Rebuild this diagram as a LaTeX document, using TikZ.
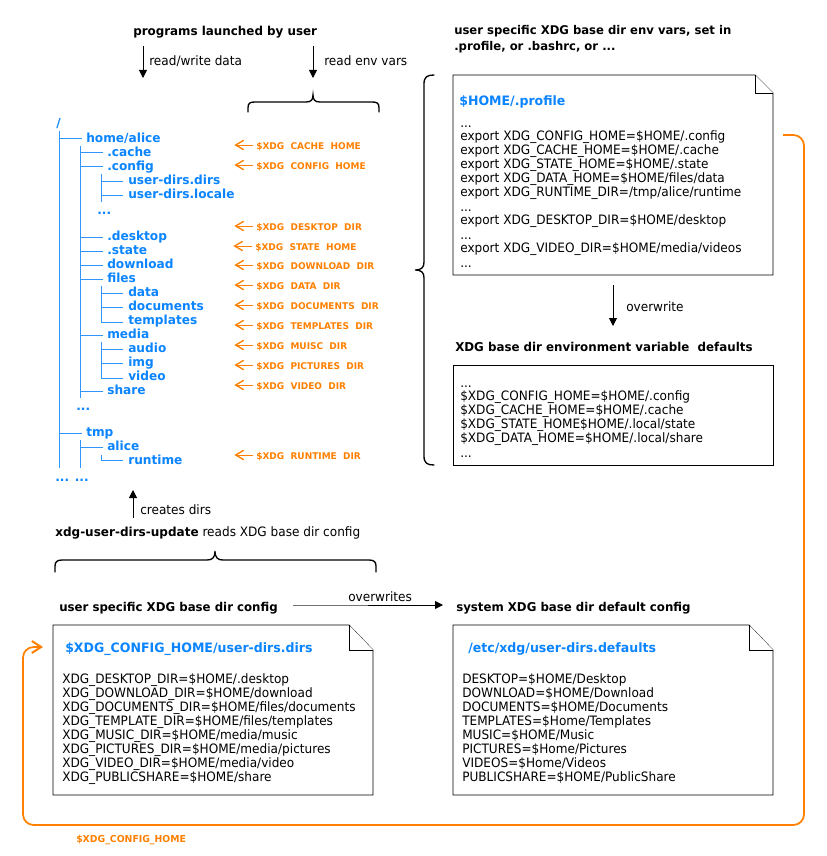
\documentclass[tikz,border=0pt]{standalone}
\usepackage{fontspec}
\setmainfont{DejaVu Sans}
\newfontfamily\bodyf[FakeStretch=0.935]{DejaVu Sans}
\newfontfamily\boldf[FakeStretch=0.97]{DejaVu Sans Bold}
\newfontfamily\treef[FakeStretch=0.97]{DejaVu Sans Bold}
\usetikzlibrary{arrows.meta}
\definecolor{treeblue}{HTML}{0A84FF}
\definecolor{xorange}{HTML}{FF8000}
\tikzset{
  x=0.75pt,y=-0.75pt,
  txt/.style={inner sep=0pt,anchor=base west,yshift=-0.75pt,font=\bodyf\fontsize{9.7}{10}\selectfont,text=black},
  hd/.style={inner sep=0pt,anchor=base west,yshift=-0.75pt,font=\boldf\fontsize{9}{10}\selectfont,text=black},
  tree/.style={inner sep=0pt,anchor=base west,yshift=-0.35pt,font=\treef\fontsize{9.4}{10}\selectfont,text=treeblue},
  title/.style={inner sep=0pt,anchor=base west,font=\treef\fontsize{9.7}{10}\selectfont,text=treeblue},
  lab/.style={inner sep=0pt,anchor=base west,yshift=-0.35pt,font=\treef\fontsize{6.95}{8}\selectfont,text=xorange},
  tline/.style={draw=treeblue!85,line width=0.6pt},
  oarr/.style={draw=xorange,line width=0.75pt,-{Straight Barb[length=6pt,width=7pt,line width=1pt]}},
  barr/.style={draw=black,line width=0.6pt,-{Triangle[length=6pt,width=6pt]}},
  doc/.style={draw=black,line width=0.6pt,fill=white},
  brc/.style={draw=black,line width=1pt,line cap=round},
}
\begin{document}
\begin{tikzpicture}
\useasboundingbox (0,0) rectangle (827,856);
% headings
\node[hd] (prog) at (133,35) {\fontsize{9.2}{10}\selectfont programs launched by user};
\node[txt] (rw) at (149,64) {read/write data};
\node[txt] (renv) at (324,64) {read env vars};
\coordinate (a1s) at (143,46); \coordinate (a1e) at (143,78);
\coordinate (a2s) at (313,46); \coordinate (a2e) at (313,78);
\draw[barr] (a1s) -- (a1e);
\draw[barr] (a2s) -- (a2e);
% top brace
\draw[brc] (248,112) -- (248,108) .. controls (248,103) and (250,102) .. (255,102) -- (306,102) .. controls (311,102) and (313,100) .. (313,95)
  .. controls (313,100) and (315,102) .. (320,102) -- (372,102) .. controls (377,102) and (379,103) .. (379,108) -- (379,112);
% tree
\node[tree] (root) at (56,127) {/};
\node[tree] (home) at (86,142) {home/alice};
\node[tree] (cache) at (107,156) {.cache};
\node[tree] (config) at (107,170) {.config};
\node[tree] (ud) at (128,184) {user-dirs.dirs};
\node[tree] (ul) at (128,198) {user-dirs.locale};
\node[tree] (d1) at (97,214) {...};
\node[tree] (desktop) at (107,240) {.desktop};
\node[tree] (state) at (107,254) {.state};
\node[tree] (download) at (107,268) {download};
\node[tree] (files) at (107,282) {files};
\node[tree] (data) at (128,296) {data};
\node[tree] (documents) at (128,310) {documents};
\node[tree] (templates) at (128,324) {templates};
\node[tree] (media) at (107,338) {media};
\node[tree] (audio) at (128,352) {audio};
\node[tree] (img) at (128,366) {img};
\node[tree] (video) at (128,380) {video};
\node[tree] (share) at (107,394) {share};
\node[tree] (d2) at (76,410) {...};
\node[tree] (tmp) at (86,436) {tmp};
\node[tree] (alice) at (107,450) {alice};
\node[tree] (runtime) at (128,464) {runtime};
\node[tree] (d3) at (55,481) {... ...};
% tree lines
\coordinate (s1t) at (59,131); \coordinate (s1b) at (59,468);
\coordinate (s2t) at (80,146); \coordinate (s2b) at (80,398);
\coordinate (s3t) at (80,440); \coordinate (s3b) at (80,468);
\draw[tline] (s1t) -- (s1b);
\draw[tline] (s2t) -- (s2b);
\draw[tline] (s3t) -- (s3b);
\draw[tline] (101,174) -- (101,202);
\draw[tline] (101,286) -- (101,322) -- (123,322);
\draw[tline] (101,342) -- (101,378) -- (123,378);
\draw[tline] (101,455) -- (101,460.5) -- (123,460.5);
\foreach \n/\y in {home/138,tmp/433}{\draw[tline] (59,\y) -- (82,\y);}
\foreach \n/\y in {cache/152,config/166,desktop/237,state/251,download/265,files/279,media/335,share/391,alice/447}{\draw[tline] (80,\y) -- (103,\y);}
\foreach \n/\y in {ud/181,ul/195,data/293,documents/307,img/363,audio/349}{\draw[tline] (101,\y) -- (123,\y);}
% orange labels
\foreach \n/\x/\y/\t in {
 l1/256/149/\$XDG\ \ CACHE\ \ HOME,
 l2/256/169/\$XDG\ \ CONFIG\ \ HOME,
 l3/256/230/\$XDG\ \ DESKTOP\ \ DIR,
 l4/255/250/\$XDG\ \ STATE\ \ HOME,
 l5/256/269/\$XDG\ \ DOWNLOAD\ \ DIR,
 l6/256/289/\$XDG\ \ DATA\ \ DIR,
 l7/256/309/\$XDG\ \ DOCUMENTS\ \ DIR,
 l8/256/329/\$XDG\ \ TEMPLATES\ \ DIR,
 l9/256/349/\$XDG\ \ MUISC\ \ DIR,
 l10/256/369/\$XDG\ \ PICTURES\ \ DIR,
 l11/256/389/\$XDG\ \ VIDEO\ \ DIR,
 l12/256/459/\$XDG\ \ RUNTIME\ \ DIR}{
 \node[lab] (\n) at (\x,\y) {\t};
 \draw[oarr] ([xshift=-2pt,yshift=3.35pt]\n.base west) -- ++(-19,0);
}
% profile
\node[hd] (h1) at (454,34) {user specific XDG base dir env vars, set in};
\node[hd] (h2) at (454,50) {.profile, or .bashrc, or ...};
\draw[doc] (453,75) -- (755,75) -- (773,93) -- (773,275) -- (453,275) -- cycle;
\draw[doc] (755,75) -- (755,93) -- (773,93);
\node[title] (ptitle) at (459,105) {\$HOME/.profile};
\node[txt] (p0) at (460,126) {...};
\node[txt] (p1) at (460,139) {export XDG\_CONFIG\_HOME=\$HOME/.config};
\node[txt] (p2) at (460,153) {export XDG\_CACHE\_HOME=\$HOME/.cache};
\node[txt] (p3) at (460,167) {export XDG\_STATE\_HOME=\$HOME/.state};
\node[txt] (p4) at (460,181) {export XDG\_DATA\_HOME=\$HOME/files/data};
\node[txt] (p5) at (460,195) {export XDG\_RUNTIME\_DIR=/tmp/alice/runtime};
\node[txt] (p6) at (460,210) {...};
\node[txt] (p7) at (460,223) {export XDG\_DESKTOP\_DIR=\$HOME/desktop};
\node[txt] (p8) at (460,238) {...};
\node[txt] (p9) at (460,251) {export XDG\_VIDEO\_DIR=\$HOME/media/videos};
\node[txt] (p10) at (460,266) {...};
% right brace
\draw[brc] (434,75) .. controls (427,75) and (424,77) .. (424,84) -- (424,262) .. controls (424,267) and (422,270) .. (415,270)
 .. controls (422,270) and (424,273) .. (424,278) -- (424,456) .. controls (424,463) and (427,465) .. (434,465);
% overwrite
\coordinate (owa) at (613,285); \coordinate (owb) at (613,326);
\draw[barr] (owa) -- (owb);
\node[txt] (ow) at (626,310) {overwrite};
\node[hd] (h3) at (455,350) {\fontsize{9.15}{10}\selectfont XDG base dir environment variable\ \ defaults};
\node[draw=black,line width=0.6pt,minimum width=320*0.75pt,minimum height=100*0.75pt,anchor=north west,inner sep=0pt] (defbox) at (453,365) {};
\node[txt] (q0) at (460,386) {...};
\node[txt] (q1) at (460,399) {\$XDG\_CONFIG\_HOME=\$HOME/.config};
\node[txt] (q2) at (460,413) {\$XDG\_CACHE\_HOME=\$HOME/.cache};
\node[txt] (q3) at (460,427) {\$XDG\_STATE\_HOME\$HOME/.local/state};
\node[txt] (q4) at (460,441) {\$XDG\_DATA\_HOME=\$HOME/.local/share};
\node[txt] (q5) at (460,456) {...};
% creates
\coordinate (ca) at (133,518); \coordinate (cb) at (133,490);
\draw[barr] (ca) -- (cb);
\node[txt] (cd) at (140,513) {creates dirs};
\node[txt] (upd) at (55,535) {{\boldf\fontsize{9.3}{10}\selectfont xdg-user-dirs-update} reads XDG base dir config};
\draw[brc] (55,572) -- (55,566) .. controls (55,562) and (57,560) .. (62,560) -- (207,560) .. controls (212,560) and (215,558) .. (215,551)
  .. controls (215,558) and (218,560) .. (223,560) -- (369,560) .. controls (374,560) and (376,562) .. (376,566) -- (376,572);
% config headings
\node[hd] (u1) at (59,610) {\fontsize{9.1}{10}\selectfont user specific XDG base dir config};
\node[hd] (s1) at (456,610) {\fontsize{9.1}{10}\selectfont system XDG base dir default config};
\node[txt] (ows) at (348,600) {overwrites};
\coordinate (ov1) at (293,605); \coordinate (ovm) at (368,605); \coordinate (ov2) at (443,605);
\draw[draw=black!55,line width=0.6pt] (ov1) -- (ovm);
\draw[barr] (ovm) -- (ov2);
% left doc
\draw[doc] (53,625) -- (349,625) -- (373,650) -- (373,795) -- (53,795) -- cycle;
\draw[doc] (349,625) -- (349,650) -- (373,650);
\node[title] (ltitle) at (65,652) {\$XDG\_CONFIG\_HOME/user-dirs.dirs};
\node[txt] (a1) at (62,682) {XDG\_DESKTOP\_DIR=\$HOME/.desktop};
\node[txt] (a2) at (62,696) {XDG\_DOWNLOAD\_DIR=\$HOME/download};
\node[txt] (a3) at (62,710) {XDG\_DOCUMENTS\_DIR=\$HOME/files/documents};
\node[txt] (a4) at (62,724) {XDG\_TEMPLATE\_DIR=\$HOME/files/templates};
\node[txt] (a5) at (62,738) {XDG\_MUSIC\_DIR=\$HOME/media/music};
\node[txt] (a6) at (62,752) {XDG\_PICTURES\_DIR=\$HOME/media/pictures};
\node[txt] (a7) at (62,766) {XDG\_VIDEO\_DIR=\$HOME/media/video};
\node[txt] (a8) at (62,780) {XDG\_PUBLICSHARE=\$HOME/share};
% right doc
\draw[doc] (453,625) -- (749,625) -- (773,650) -- (773,795) -- (453,795) -- cycle;
\draw[doc] (749,625) -- (749,650) -- (773,650);
\node[title] (rtitle) at (468,652) {/etc/xdg/user-dirs.defaults};
\node[txt] (b1) at (462,682) {DESKTOP=\$HOME/Desktop};
\node[txt] (b2) at (462,696) {DOWNLOAD=\$HOME/Download};
\node[txt] (b3) at (462,710) {DOCUMENTS=\$HOME/Documents};
\node[txt] (b4) at (462,724) {TEMPLATES=\$Home/Templates};
\node[txt] (b5) at (462,738) {MUSIC=\$HOME/Music};
\node[txt] (b6) at (462,752) {PICTURES=\$Home/Pictures};
\node[txt] (b7) at (462,766) {VIDEOS=\$Home/Videos};
\node[txt] (b8) at (462,780) {PUBLICSHARE=\$HOME/PublicShare};
% loop
\coordinate (ls) at (783,135); \coordinate (le) at (43,647);
\draw[draw=xorange,line width=1.3pt,rounded corners=8pt,-{Straight Barb[length=7pt,width=9pt,line width=1.5pt]}] (ls) -- (804,135) -- (804,825) -- (23,825) -- (23,647) -- (le);
\node[lab,font=\treef\fontsize{7.2}{8}\selectfont] (lbl) at (76,842) {\$XDG\_CONFIG\_HOME};
\end{tikzpicture}
\end{document}
